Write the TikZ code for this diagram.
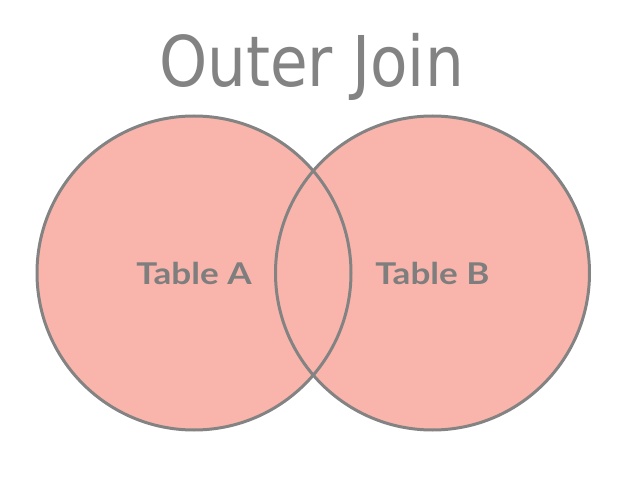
\documentclass[tikz,border=0pt]{standalone}
\usepackage{fontspec}
\setmainfont{DejaVu Sans}
\newfontfamily\labelfont{Lato}
\usetikzlibrary{positioning}
\definecolor{venn}{HTML}{F9B5AB}
\definecolor{rim}{HTML}{838383}
\definecolor{labelgray}{HTML}{7E7E7E}

\begin{document}
\begin{tikzpicture}[x=1pt, y=-1pt,
    tablefill/.style={circle, fill=venn, minimum size=314pt, inner sep=0pt},
    tablelabel/.style={text=labelgray, font=\labelfont\bfseries\fontsize{30}{30}\selectfont}]
    % Page frame
    \useasboundingbox[fill=white] (0,0) rectangle (625,487);

    % Title
    \node[text=rim, font=\fontsize{70}{70}\selectfont, xscale=0.875, anchor=base] (title) at (311.5,87) {Outer Join};

    % Fill both tables first, then their rims
    \node[tablefill] (tableA) at (194,273) {};
    \node[tablefill] (tableB) at (432.5,273) {};
    \foreach \t in {tableA,tableB} { \draw[rim, line width=3pt] (\t.center) circle[radius=157pt]; }

    % Table names
    \node[tablelabel, xscale=1.17] at (tableA) {Table A};
    \node[tablelabel, xscale=1.17] at (tableB) {Table B};
\end{tikzpicture}
\end{document}
